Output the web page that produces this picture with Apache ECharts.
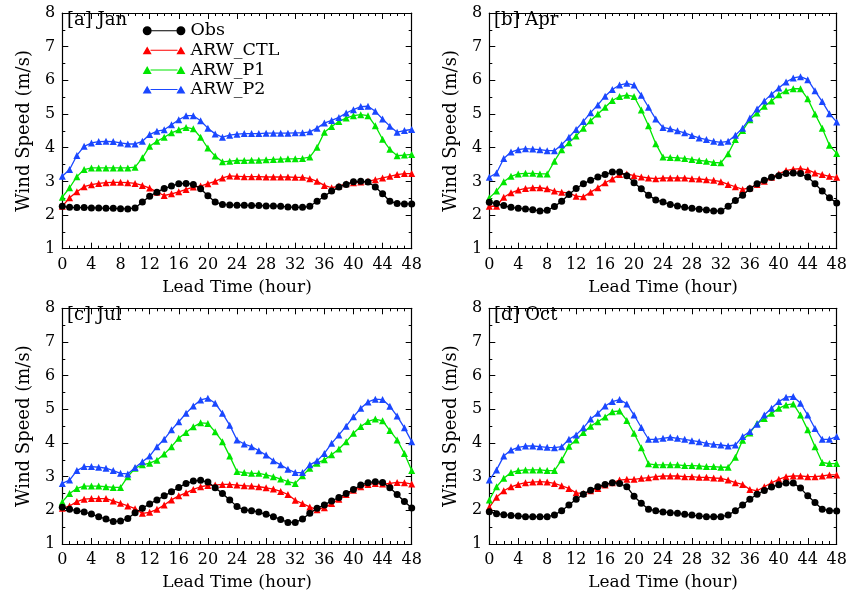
<!DOCTYPE html>
<html>
<head>
<meta charset="utf-8">
<script src="https://cdn.jsdelivr.net/npm/echarts@6/dist/echarts.min.js"></script>
<style>
html,body{margin:0;padding:0;background:#fff;}
#chart{width:851px;height:594px;}
</style>
</head>
<body>
<div id="chart"></div>
<script>
// ---- data ----
const hours = [0,1,2,3,4,5,6,7,8,9,10,11,12,13,14,15,16,17,18,19,20,21,22,23,24,25,26,27,28,29,30,31,32,33,34,35,36,37,38,39,40,41,42,43,44,45,46,47,48];
const xTickLabels = [0,4,8,12,16,20,24,28,32,36,40,44,48];
const yTickLabels = [1,2,3,4,5,6,7,8];
const seriesNames = ['Obs','ARW_CTL','ARW_P1','ARW_P2'];
const panelTitles = ['[a] Jan','[b] Apr','[c] Jul','[d] Oct'];

const janObs = [2.26,2.23,2.22,2.22,2.21,2.21,2.20,2.20,2.19,2.18, 2.21,2.39,2.56,2.68,2.79,2.86,2.93,2.94,2.91,2.78, 2.57,2.39,2.31,2.30, 2.29,2.29,2.28,2.28,2.27,2.27,2.26,2.24,2.23,2.23, 2.26,2.41,2.56,2.71,2.83,2.91,2.99,3.00,2.98,2.83, 2.63,2.41,2.34,2.33,2.33];
const janCtl = [2.26,2.51,2.69,2.84,2.90,2.94,2.96,2.97,2.97,2.96, 2.94,2.88,2.80,2.68,2.58,2.63,2.69,2.76,2.83,2.86, 2.93,3.00,3.10,3.16, 3.15,3.14,3.14,3.14,3.13,3.13,3.13,3.13,3.12,3.12, 3.08,3.00,2.88,2.81,2.86,2.93,2.96,2.98,3.00,3.05, 3.10,3.15,3.20,3.23,3.23];
const janP1 = [2.53,2.81,3.14,3.35,3.40,3.40,3.40,3.40,3.40,3.40, 3.42,3.70,4.04,4.19,4.31,4.44,4.53,4.60,4.56,4.31, 3.99,3.75,3.58,3.60, 3.62,3.62,3.63,3.63,3.64,3.65,3.66,3.67,3.67,3.68, 3.72,4.01,4.46,4.63,4.78,4.88,4.95,4.98,4.95,4.65, 4.25,3.95,3.76,3.78,3.80];
const janP2 = [3.15,3.35,3.77,4.04,4.14,4.18,4.19,4.18,4.14,4.11, 4.11,4.19,4.39,4.49,4.53,4.68,4.83,4.95,4.95,4.80, 4.58,4.41,4.31,4.37, 4.40,4.42,4.42,4.42,4.43,4.43,4.43,4.43,4.44,4.44, 4.47,4.58,4.73,4.81,4.90,5.03,5.13,5.22,5.23,5.08, 4.85,4.64,4.46,4.51,4.54];

const aprObs = [2.38,2.34,2.28,2.23,2.20,2.18,2.16,2.12,2.14,2.25, 2.41,2.61,2.79,2.93,3.03,3.13,3.20,3.28,3.28,3.17, 2.96,2.78,2.59,2.45, 2.39,2.31,2.27,2.23,2.20,2.17,2.15,2.12,2.12,2.26, 2.43,2.59,2.78,2.93,3.03,3.12,3.17,3.23,3.25,3.23, 3.13,2.93,2.71,2.51,2.36];
const aprCtl = [2.26,2.26,2.53,2.66,2.74,2.79,2.81,2.81,2.78,2.71, 2.68,2.65,2.56,2.54,2.68,2.81,2.96,3.07,3.20,3.22, 3.17,3.13,3.10,3.08, 3.10,3.10,3.10,3.10,3.08,3.07,3.05,3.03,2.99,2.91, 2.84,2.76,2.81,2.91,3.00,3.12,3.22,3.32,3.36,3.38, 3.34,3.25,3.20,3.15,3.12];
const aprP1 = [2.51,2.71,2.99,3.15,3.22,3.24,3.24,3.22,3.22,3.60, 3.94,4.15,4.35,4.58,4.80,5.00,5.20,5.40,5.52,5.56, 5.52,5.12,4.65,4.12, 3.72,3.71,3.70,3.68,3.65,3.62,3.60,3.56,3.55,3.82, 4.24,4.51,4.83,5.03,5.23,5.39,5.57,5.69,5.75,5.75, 5.45,5.00,4.58,4.07,3.83];
const aprP2 = [3.12,3.25,3.68,3.87,3.94,3.97,3.96,3.94,3.91,3.91, 4.09,4.31,4.54,4.78,5.04,5.27,5.53,5.73,5.86,5.91, 5.86,5.56,5.20,4.85, 4.60,4.56,4.50,4.44,4.36,4.29,4.24,4.19,4.16,4.19, 4.37,4.58,4.88,5.15,5.39,5.59,5.77,5.95,6.07,6.11, 6.02,5.69,5.37,5.01,4.76];

const julObs = [2.09,2.03,1.99,1.95,1.89,1.81,1.74,1.67,1.68,1.76, 1.93,2.06,2.19,2.31,2.43,2.55,2.68,2.80,2.87,2.89, 2.84,2.67,2.50,2.31, 2.11,2.01,1.99,1.95,1.88,1.81,1.73,1.64,1.64,1.74, 1.91,2.06,2.16,2.28,2.38,2.50,2.62,2.75,2.82,2.85, 2.83,2.67,2.47,2.26,2.07];
const julCtl = [2.06,2.13,2.26,2.33,2.35,2.35,2.35,2.28,2.21,2.13, 2.05,1.91,1.94,2.03,2.16,2.31,2.43,2.52,2.62,2.70, 2.74,2.75,2.77,2.77, 2.75,2.73,2.72,2.70,2.67,2.63,2.56,2.47,2.30,2.20, 2.10,2.02,2.08,2.20,2.33,2.47,2.60,2.70,2.77,2.80, 2.78,2.80,2.83,2.82,2.78];
const julP1 = [2.25,2.50,2.65,2.72,2.72,2.72,2.70,2.68,2.68,3.00, 3.25,3.35,3.40,3.49,3.67,3.89,4.14,4.31,4.48,4.60, 4.58,4.33,4.04,3.61, 3.15,3.12,3.10,3.10,3.05,3.00,2.93,2.85,2.80,3.03, 3.25,3.40,3.50,3.65,3.82,4.04,4.29,4.49,4.64,4.71, 4.66,4.37,4.09,3.69,3.18];
const julP2 = [2.80,2.90,3.18,3.30,3.30,3.28,3.25,3.18,3.10,3.08, 3.27,3.44,3.61,3.89,4.11,4.39,4.63,4.88,5.10,5.28, 5.33,5.18,4.88,4.53, 4.09,3.97,3.89,3.77,3.64,3.47,3.35,3.22,3.12,3.12, 3.35,3.47,3.69,3.99,4.24,4.50,4.78,5.03,5.22,5.30, 5.29,5.09,4.80,4.45,4.04];

const octObs = [1.96,1.90,1.87,1.85,1.83,1.81,1.81,1.81,1.81,1.86, 1.99,2.16,2.33,2.48,2.60,2.70,2.77,2.82,2.80,2.70, 2.42,2.21,2.03,1.99, 1.95,1.93,1.91,1.88,1.86,1.83,1.81,1.81,1.81,1.86, 1.99,2.16,2.33,2.48,2.59,2.69,2.76,2.81,2.81,2.66, 2.43,2.23,2.03,1.99,1.98];
const octCtl = [2.09,2.39,2.58,2.70,2.77,2.82,2.84,2.85,2.84,2.80, 2.73,2.65,2.52,2.50,2.58,2.65,2.75,2.82,2.90,2.92, 2.92,2.95,2.97,3.00, 3.02,3.02,3.02,3.00,3.00,2.98,2.98,2.96,2.95,2.90, 2.82,2.77,2.62,2.58,2.70,2.82,2.92,3.00,3.02,3.02, 3.00,3.00,3.02,3.05,3.05];
const octP1 = [2.31,2.70,2.95,3.12,3.18,3.20,3.20,3.20,3.18,3.18, 3.50,3.90,4.09,4.31,4.50,4.63,4.77,4.93,4.95,4.67, 4.29,3.86,3.38,3.35, 3.35,3.35,3.35,3.33,3.33,3.32,3.30,3.30,3.28,3.28, 3.58,4.08,4.30,4.58,4.73,4.88,5.03,5.13,5.16,4.83, 4.39,3.89,3.42,3.39,3.39];
const octP2 = [2.90,3.20,3.61,3.79,3.87,3.91,3.91,3.89,3.87,3.86, 3.89,4.11,4.24,4.45,4.71,4.88,5.10,5.23,5.29,5.16, 4.83,4.46,4.11,4.11, 4.14,4.17,4.14,4.11,4.07,4.04,3.99,3.96,3.94,3.91, 3.94,4.19,4.34,4.56,4.83,5.03,5.23,5.36,5.38,5.18, 4.83,4.43,4.11,4.11,4.19];

// ---- styling / layout ----
const FONT = 'DejaVu Serif';
const COLORS = ['#000000', '#ff0000', '#00e600', '#1a47ff'];
const SYMBOLS = ['circle', 'triangle', 'triangle', 'triangle'];
const panelData = [
  [janObs, janCtl, janP1, janP2],
  [aprObs, aprCtl, aprP1, aprP2],
  [julObs, julCtl, julP1, julP2],
  [octObs, octCtl, octP1, octP2]
];
const grids = [
  {left: 62.3, top: 13, width: 349.4, height: 235.7},
  {left: 489.3, top: 13, width: 347.4, height: 235.7},
  {left: 62.3, top: 308.3, width: 349.4, height: 235.7},
  {left: 489.3, top: 308.3, width: 347.4, height: 235.7}
];
const titlePos = [[67, 11], [494, 11], [67, 306], [494, 306]];

const ICON_CIRCLE = 'path://M1,5 A4,4 0 1,0 9,5 A4,4 0 1,0 1,5 Z M9,4.55 L31,4.55 L31,5.45 L9,5.45 Z M31,5 A4,4 0 1,0 39,5 A4,4 0 1,0 31,5 Z';
const ICON_TRI = 'path://M1,8.6 L5,1.6 L9,8.6 Z M8,4.55 L32,4.55 L32,5.45 L8,5.45 Z M31,8.6 L35,1.6 L39,8.6 Z';

const axisLineStyle = {color: '#000', width: 1.2};
const xAxes = [], yAxes = [], series = [], titles = [];
grids.forEach((g, i) => {
  xAxes.push({
    type: 'value', gridIndex: i, position: 'bottom', min: 0, max: 48, interval: 4,
    axisLine: {show: true, onZero: false, lineStyle: axisLineStyle},
    axisTick: {show: true, inside: true, length: 6, lineStyle: {color: '#000', width: 1}},
    minorTick: {show: true, splitNumber: 4, length: 3, lineStyle: {color: '#000', width: 1}},
    splitLine: {show: false},
    axisLabel: {show: true, color: '#000', fontFamily: FONT, fontSize: 16, margin: 8,
      formatter: v => (xTickLabels.indexOf(v) >= 0 ? String(v) : '')},
    name: 'Lead Time (hour)', nameLocation: 'middle', nameGap: 30,
    nameTextStyle: {color: '#000', fontFamily: FONT, fontSize: 17}
  });
  xAxes.push({
    type: 'value', gridIndex: i, position: 'top', min: 0, max: 48, interval: 4,
    axisLine: {show: true, onZero: false, lineStyle: axisLineStyle},
    axisTick: {show: true, inside: true, length: 6, lineStyle: {color: '#000', width: 1}},
    minorTick: {show: true, splitNumber: 4, length: 3, lineStyle: {color: '#000', width: 1}},
    splitLine: {show: false}, axisLabel: {show: false}
  });
  yAxes.push({
    type: 'value', gridIndex: i, position: 'left', min: 1, max: 8, interval: 1,
    axisLine: {show: true, onZero: false, lineStyle: axisLineStyle},
    axisTick: {show: true, inside: true, length: 6, lineStyle: {color: '#000', width: 1}},
    minorTick: {show: true, splitNumber: 2, length: 3, lineStyle: {color: '#000', width: 1}},
    splitLine: {show: false},
    axisLabel: {show: true, color: '#000', fontFamily: FONT, fontSize: 16, margin: 7,
      formatter: v => (yTickLabels.indexOf(v) >= 0 ? String(v) : '')},
    name: 'Wind Speed (m/s)', nameLocation: 'middle', nameGap: 29,
    nameTextStyle: {color: '#000', fontFamily: FONT, fontSize: 18}
  });
  yAxes.push({
    type: 'value', gridIndex: i, position: 'right', min: 1, max: 8, interval: 1,
    axisLine: {show: true, onZero: false, lineStyle: axisLineStyle},
    axisTick: {show: true, inside: true, length: 6, lineStyle: {color: '#000', width: 1}},
    minorTick: {show: true, splitNumber: 2, length: 3, lineStyle: {color: '#000', width: 1}},
    splitLine: {show: false}, axisLabel: {show: false}
  });
  titles.push({
    text: panelTitles[i], left: titlePos[i][0], top: titlePos[i][1], padding: 0,
    textStyle: {color: '#000', fontFamily: FONT, fontSize: 18, fontWeight: 'normal'}
  });
  panelData[i].forEach((vals, k) => {
    series.push({
      name: seriesNames[k], type: 'line',
      xAxisIndex: i * 2, yAxisIndex: i * 2,
      data: hours.map((h, j) => [h, vals[j]]),
      symbol: SYMBOLS[k], symbolSize: 7,
      showSymbol: true, showAllSymbol: true,
      color: COLORS[k],
      lineStyle: {color: COLORS[k], width: 1.3},
      itemStyle: {color: COLORS[k]},
      z: k === 0 ? 5 : 2 + k * 0.1,
      animation: false
    });
  });
});

const chart = echarts.init(document.getElementById('chart'), null, {renderer: 'canvas'});
chart.setOption({
  backgroundColor: '#ffffff',
  animation: false,
  title: titles,
  grid: grids.map(g => Object.assign({containLabel: false}, g)),
  xAxis: xAxes,
  yAxis: yAxes,
  legend: {
    show: true, orient: 'vertical', left: 142.7, top: 21, padding: 0,
    itemWidth: 42.7, itemHeight: 10.7, itemGap: 0,
    data: [
      {name: 'Obs', icon: ICON_CIRCLE},
      {name: 'ARW_CTL', icon: ICON_TRI},
      {name: 'ARW_P1', icon: ICON_TRI},
      {name: 'ARW_P2', icon: ICON_TRI}
    ],
    textStyle: {color: '#000', fontFamily: FONT, fontSize: 17.5, lineHeight: 19.6}
  },
  series: series
});
</script>
</body>
</html>
